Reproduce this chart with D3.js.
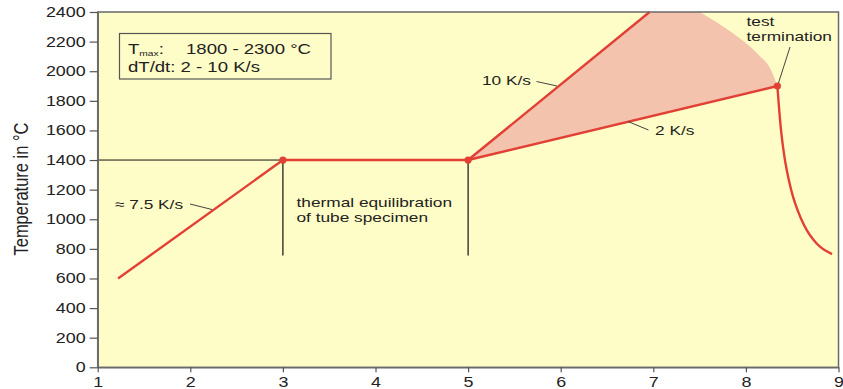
<!DOCTYPE html>
<html>
<head>
<meta charset="utf-8">
<script src="https://cdn.jsdelivr.net/npm/d3@7"></script>
<style>
  html, body { margin: 0; padding: 0; background: #ffffff; }
  svg { display: block; }
  text { font-family: "Liberation Sans", Arial, sans-serif; fill: #222; }
</style>
</head>
<body>
<svg id="chart" width="843" height="389"></svg>
<script>
// Temperature program of the tube specimen test
const xTicks = [1, 2, 3, 4, 5, 6, 7, 8, 9];
const yTicks = [0, 200, 400, 600, 800, 1000, 1200, 1400, 1600, 1800, 2000, 2200, 2400];

// heat-up at ~7.5 K/s and hold for thermal equilibration
const heatX = [1.22, 3, 5];
const heatY = [600, 1400, 1400];

// transient ramps: 10 K/s and 2 K/s
const fastX = [5, 6.96];
const fastY = [1400, 2400];
const slowX = [5, 8.34];
const slowY = [1400, 1900];

// upper limit of the test termination envelope
const envX = [7.50, 7.86, 8.12, 8.28, 8.34];
const envY = [2400, 2256, 2121, 1997, 1900];

// cool-down after test termination
const coolX = [8.34, 8.387, 8.441, 8.530, 8.657, 8.800, 8.93];
const coolY = [1900, 1558, 1333, 1110, 927, 815, 765];

// hold-phase markers
const markX = [3, 5, 8.34];
const markY = [1400, 1400, 1900];

const SX = 1.28; // horizontal text stretch
const RED = "#e23f35";
const PINK = "#f4c3ae";
const BG = "#fffdc7";

const svg = d3.select("#chart");
const x = d3.scaleLinear().domain([1, 9]).range([97.7, 838.5]);
const y = d3.scaleLinear().domain([0, 2400]).range([367.3, 12]);

const zip = (a, b) => a.map((v, i) => [v, b[i]]);

// plot background
svg.append("rect")
  .attr("x", x(1)).attr("y", y(2400))
  .attr("width", x(9) - x(1)).attr("height", y(0) - y(2400))
  .attr("fill", BG);

// shaded envelope between the two ramps
const arcPath = d3.line().x(d => x(d[0])).y(d => y(d[1])).curve(d3.curveMonotoneX)(zip(envX, envY));
const fillPath = "M" + x(fastX[0]) + "," + y(fastY[0]) +
  "L" + x(fastX[1]) + "," + y(fastY[1]) +
  "L" + arcPath.slice(1) +
  "L" + x(slowX[0]) + "," + y(slowY[0]) + "Z";
svg.append("path").attr("d", fillPath).attr("fill", PINK);

// guide lines at the hold phase
svg.append("line")
  .attr("x1", x(1)).attr("x2", x(3)).attr("y1", y(1400)).attr("y2", y(1400))
  .attr("stroke", "#111").attr("stroke-width", 1);
[3, 5].forEach(v => {
  svg.append("line")
    .attr("x1", x(v)).attr("x2", x(v)).attr("y1", y(1400)).attr("y2", y(755))
    .attr("stroke", "#111").attr("stroke-width", 1.2);
});

// red temperature curves
const redLine = (d, curve) => svg.append("path")
  .attr("d", d3.line().x(p => x(p[0])).y(p => y(p[1])).curve(curve || d3.curveLinear)(d))
  .attr("fill", "none").attr("stroke", RED).attr("stroke-width", 2.4)
  .attr("stroke-linejoin", "round");
redLine(zip(heatX, heatY));
redLine(zip(fastX, fastY));
redLine(zip(slowX, slowY));
redLine(zip(coolX, coolY), d3.curveCatmullRom.alpha(0.5));

svg.selectAll("circle.mark").data(zip(markX, markY)).enter().append("circle")
  .attr("class", "mark")
  .attr("cx", d => x(d[0])).attr("cy", d => y(d[1])).attr("r", 3.6)
  .attr("fill", RED);

// frame
svg.append("rect")
  .attr("x", x(1)).attr("y", y(2400))
  .attr("width", x(9) - x(1)).attr("height", y(0) - y(2400))
  .attr("fill", "none").attr("stroke", "#6a6a6a").attr("stroke-width", 1.5);

// axes
const yAxis = svg.append("g").attr("transform", `translate(${x(1)},0)`)
  .call(d3.axisLeft(y).tickValues(yTicks).tickFormat(d3.format("d"))
    .tickSize(8).tickPadding(4).tickSizeOuter(0));
const xAxis = svg.append("g").attr("transform", `translate(0,${y(0)})`)
  .call(d3.axisBottom(x).tickValues(xTicks).tickFormat(d3.format("d"))
    .tickSize(5).tickPadding(4.5).tickSizeOuter(0));
[yAxis, xAxis].forEach(g => {
  g.select(".domain").attr("stroke", "#6a6a6a").attr("stroke-width", 1.5);
  g.selectAll(".tick line").attr("stroke", "#555").attr("stroke-width", 1.2);
  g.selectAll(".tick text").style("font-size", "14px").attr("fill", "#222")
    .style("font-family", "'Liberation Sans', Arial, sans-serif");
});
yAxis.selectAll(".tick text").each(function () {
  const t = d3.select(this);
  t.attr("transform", `translate(${+t.attr("x")},0) scale(${SX},1)`).attr("x", 0);
});
xAxis.selectAll(".tick text").attr("transform", `scale(${SX},1)`)
  .attr("x", 0);

// text helper with horizontal stretch
function label(px, py, str, size, anchor) {
  const g = svg.append("g").attr("transform", `translate(${px},${py}) scale(${SX},1)`);
  return g.append("text").attr("x", 0).attr("y", 0)
    .attr("text-anchor", anchor || "start")
    .style("font-size", size + "px").text(str);
}

// y-axis title
svg.append("g").attr("transform", `translate(28,189) scale(${SX},1) rotate(-90)`)
  .append("text").attr("text-anchor", "middle")
  .style("font-size", "16.5px").text("Temperature in °C");

// parameter box
svg.append("rect").attr("x", 119.5).attr("y", 33.5).attr("width", 211.5).attr("height", 45.5)
  .attr("fill", BG).attr("stroke", "#555").attr("stroke-width", 1.2);
const t1 = label(128, 54, "T", 14.5);
t1.append("tspan").attr("dy", 2).style("font-size", "8px").text("max");
t1.append("tspan").attr("dy", -2).text(":");
label(186, 54, "1800 - 2300 °C", 14.5);
label(128, 71.5, "dT/dt: 2 - 10 K/s", 14.5);

// annotations and leader lines
const leader = (x1, y1, x2, y2) => svg.append("line")
  .attr("x1", x1).attr("y1", y1).attr("x2", x2).attr("y2", y2)
  .attr("stroke", "#444").attr("stroke-width", 1);

label(115, 208.5, "≈ 7.5 K/s", 13.5);
leader(190, 204, 212, 209.5);

label(482, 85, "10 K/s", 13.5);
leader(536.5, 81.5, 557, 86);

label(655, 135, "2 K/s", 13.5);
leader(628, 121.5, 648.5, 130);

label(746.5, 26, "test", 13.5);
label(746.5, 40.5, "termination", 13.5);
leader(790, 47, 778.5, 83);

label(296.5, 206.5, "thermal equilibration", 13.5);
label(296.5, 221.5, "of tube specimen", 13.5);
</script>
</body>
</html>
